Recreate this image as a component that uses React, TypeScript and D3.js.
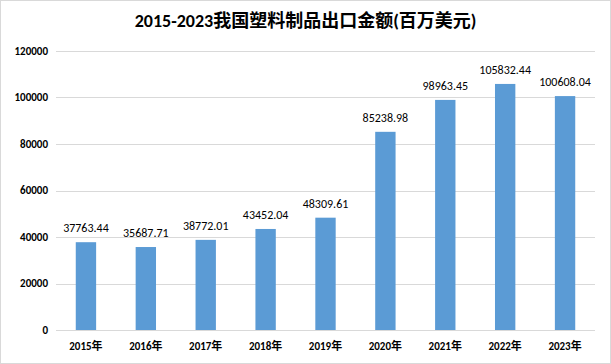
import React from "react";
import * as d3 from "d3";

const categories = ["2015年", "2016年", "2017年", "2018年", "2019年", "2020年", "2021年", "2022年", "2023年"];
const values = [37763.44, 35687.71, 38772.01, 43452.04, 48309.61, 85238.98, 98963.45, 105832.44, 100608.04];
const yTicks = [0, 20000, 40000, 60000, 80000, 100000, 120000];
const title = "2015-2023我国塑料制品出口金额(百万美元)";

const W = 611, H = 364;
const left = 56, right = 595, top = 51, bottom = 330;

export default function App() {
  const x = d3.scaleBand<string>().domain(categories).range([left, right]).paddingInner(0.66).paddingOuter(0.33);
  const y = d3.scaleLinear().domain([0, 120000]).range([bottom, top]);
  const font = "Calibri, Carlito, 'Noto Sans CJK SC', 'Liberation Sans', sans-serif";
  return (
    <div style={{ position: "absolute", left: 0, top: 0 }}>
      <svg width={W} height={H} style={{ display: "block", fontFamily: font }}>
        <rect x={0.5} y={0.5} width={W - 1} height={H - 1} fill="#fff" stroke="#d9d9d9" />
        <text x={W / 2} y={27} textAnchor="middle" fontSize={18} fontWeight="bold" fill="#000">{title}</text>
        {yTicks.map((t) => (
          <g key={t}>
            <line x1={left} x2={right} y1={Math.round(y(t)) + 0.5} y2={Math.round(y(t)) + 0.5} stroke="#d9d9d9" />
            <text x={left - 8} y={y(t)} dy="0.35em" textAnchor="end" fontSize={11} fontWeight="bold" fill="#000">{t}</text>
          </g>
        ))}
        {categories.map((c, i) => (
          <g key={c}>
            <rect x={x(c)} y={y(values[i])} width={x.bandwidth()} height={bottom - y(values[i])} fill="#5B9BD5" />
            <text x={(x(c) ?? 0) + x.bandwidth() / 2} y={y(values[i]) - 10} textAnchor="middle" fontSize={12} fill="#000">{values[i].toFixed(2)}</text>
            <text x={(x(c) ?? 0) + x.bandwidth() / 2} y={350} textAnchor="middle" fontSize={11} fontWeight="bold" fill="#000">{c}</text>
          </g>
        ))}
      </svg>
    </div>
  );
}
